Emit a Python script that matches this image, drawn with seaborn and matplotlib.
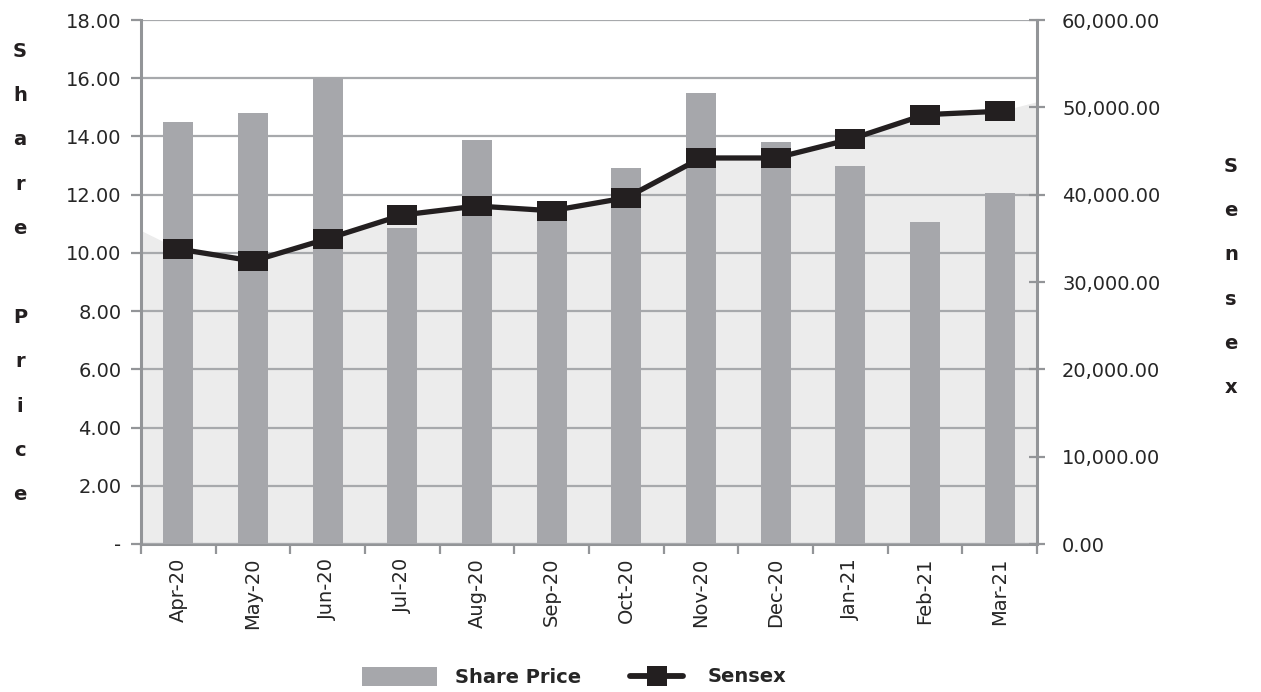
import numpy as np
import matplotlib
matplotlib.use("Agg")
import matplotlib.pyplot as plt
from matplotlib.path import Path
from matplotlib.patches import Patch
from matplotlib.lines import Line2D
from matplotlib.ticker import FixedLocator, FuncFormatter
import seaborn as sns

# ---- data ----
months = ["Apr-20", "May-20", "Jun-20", "Jul-20", "Aug-20", "Sep-20",
          "Oct-20", "Nov-20", "Dec-20", "Jan-21", "Feb-21", "Mar-21"]
share_price = [14.50, 14.80, 16.00, 10.86, 13.88, 11.40,
               12.90, 15.50, 13.80, 13.00, 11.05, 12.05]
sensex = [33780, 32400, 34960, 37670, 38700, 38160,
          39650, 44200, 44200, 46340, 49160, 49550]
# background area edge values (left and right plot edges)
area_edges = [35900, 50650]

left_ticks = [0, 2, 4, 6, 8, 10, 12, 14, 16, 18]
right_ticks = [0, 10000, 20000, 30000, 40000, 50000, 60000]

# ---- style ----
sns.set_style("white")
plt.rcParams["font.family"] = ["DejaVu Sans"]

BAR = "#a6a7ab"
AREA = "#ececec"
LINE = "#231f20"
GRID = "#a7a9ac"
SPINE = "#939598"
FS = 14

fig = plt.figure(figsize=(12.61, 6.92), dpi=100)
ax0 = fig.add_axes([141 / 1261, 1 - 544 / 692, (1037 - 141) / 1261, (544 - 20) / 692])
ax1 = ax0.twinx()
ax2 = ax0.twinx()

n = len(months)
xpos = np.arange(n)

# area (background)
area_x = np.concatenate([[-0.5], xpos, [n - 0.5]])
area_y = np.concatenate([[area_edges[0]], sensex, [area_edges[1]]])
ax0.fill_between(area_x, 0, area_y, color=AREA, linewidth=0)
ax0.set_ylim(0, 60000)
ax0.yaxis.set_visible(False)

# bars
sns.barplot(x=months, y=share_price, color=BAR, saturation=1, width=0.4,
            linewidth=0, ax=ax1, zorder=3)
ax1.set_ylim(0, 18)
ax1.yaxis.tick_left()
ax1.yaxis.set_label_position("left")
ax1.yaxis.set_major_locator(FixedLocator(left_ticks))
ax1.yaxis.set_major_formatter(FuncFormatter(lambda v, p: "-" if v == 0 else f"{v:.2f}"))
ax1.set_axisbelow(True)
ax1.grid(axis="y", color=GRID, linewidth=1.6, zorder=1)
ax1.tick_params(axis="y", which="major", direction="out", length=7, width=1.6,
                color=SPINE, labelsize=FS, pad=7, left=True, right=False)
ax1.set_ylabel("")
ax1.set_xlabel("")

# line
rect = Path([(-1.5, -1), (1.5, -1), (1.5, 1), (-1.5, 1), (-1.5, -1)],
            [Path.MOVETO, Path.LINETO, Path.LINETO, Path.LINETO, Path.CLOSEPOLY])
sns.lineplot(x=xpos, y=sensex, ax=ax2, color=LINE, linewidth=3.8,
             marker=rect, markersize=22, markeredgewidth=0,
             markerfacecolor=LINE, zorder=5)
ax2.set_ylim(0, 60000)
ax2.yaxis.set_major_locator(FixedLocator(right_ticks))
ax2.yaxis.set_major_formatter(FuncFormatter(lambda v, p: f"{v:,.2f}"))
ax2.tick_params(axis="y", which="major", direction="inout", length=12, width=1.6,
                color=SPINE, labelsize=FS, pad=12, right=True, left=False)
ax2.set_ylabel("")

# x axis
ax0.set_xlim(-0.5, n - 0.5)
ax0.xaxis.set_major_locator(FixedLocator(list(xpos)))
ax0.xaxis.set_minor_locator(FixedLocator(list(np.arange(n + 1) - 0.5)))
ax0.set_xticklabels(months, rotation=90)
ax0.tick_params(axis="x", which="major", length=0, labelsize=FS, pad=10)
ax0.tick_params(axis="x", which="minor", length=7, width=1.6, color=SPINE,
                direction="out", bottom=True)

# spines
for a in (ax0, ax1, ax2):
    for s in a.spines.values():
        s.set_visible(False)
ax0.spines["bottom"].set_visible(True)
ax1.spines["left"].set_visible(True)
ax2.spines["right"].set_visible(True)
for s in (ax0.spines["bottom"], ax1.spines["left"], ax2.spines["right"]):
    s.set_color(SPINE)
    s.set_linewidth(2.2)

# stacked axis titles
fig.text(20 / 1261, 1 - 273 / 692, "S\nh\na\nr\ne\n\nP\nr\ni\nc\ne",
         ha="center", va="center", fontsize=FS, fontweight="bold",
         linespacing=2.69, color="#231f20")
fig.text(1231 / 1261, 1 - 277 / 692, "S\ne\nn\ns\ne\nx",
         ha="center", va="center", fontsize=FS, fontweight="bold",
         linespacing=2.69, color="#231f20")

# legend (two parts so each key has its own length)
leg1 = fig.legend([Patch(facecolor=BAR, edgecolor="none")], ["Share Price"],
                  loc="center left", bbox_to_anchor=(362 / 1261, 1 - 677 / 692),
                  frameon=False, prop={"weight": "bold", "size": FS},
                  handlelength=3.87, handleheight=1.1, handletextpad=0.93,
                  borderpad=0, borderaxespad=0)
leg2 = fig.legend([Line2D([0], [0], color=LINE, linewidth=4.2, marker="s",
                          markersize=14, markeredgewidth=0, markerfacecolor=LINE,
                          solid_capstyle="round")], ["Sensex"],
                  loc="center left", bbox_to_anchor=(630 / 1261, 1 - 677 / 692),
                  frameon=False, prop={"weight": "bold", "size": FS},
                  handlelength=2.73, handletextpad=1.24,
                  borderpad=0, borderaxespad=0)

fig.savefig("out.png", dpi=100)
